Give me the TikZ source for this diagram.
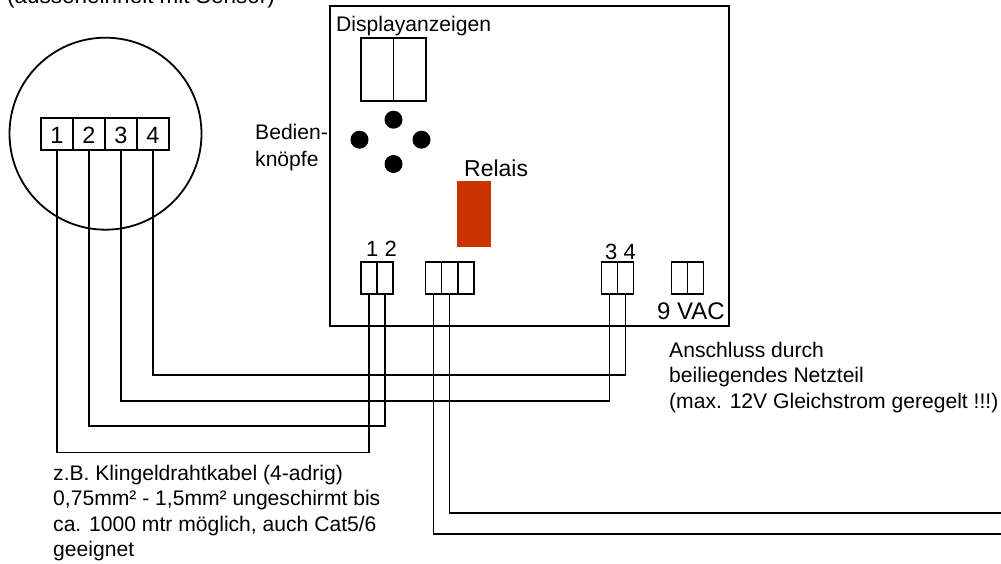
\documentclass[tikz,border=0pt]{standalone}
\usepackage{fontspec}
\setmainfont{Liberation Sans}
\definecolor{relaycol}{RGB}{204,51,0}
\tikzset{
 cell/.style={draw=black,line width=1.8pt,minimum width=#1,minimum height=32pt,inner sep=0pt,anchor=center},
 cell/.default=16pt,
 wire/.style={draw=black,line width=1.8pt,line join=miter},
 lab/.style={inner sep=0pt,font=\fontsize{21.1pt}{26pt}\selectfont,anchor=base west,align=left},
 labs/.style={inner sep=0pt,font=\fontsize{21.1pt}{25.6pt}\selectfont,anchor=north west,align=left},
 dot/.style={circle,fill=black,draw=none,minimum size=18pt,inner sep=0pt},
 disp/.style={draw=black,line width=1.8pt,minimum width=32.5pt,minimum height=63pt,inner sep=0pt},
}
\begin{document}
\begin{tikzpicture}[x=1pt,y=-1pt]
\useasboundingbox (0,0) rectangle (1001,564);
\node[draw=black,line width=1.8pt,circle,minimum size=192pt,inner sep=0pt] (outer) at (105.5,133.7) {};
\node[cell=32pt] (t1) at (57,134) {};
\node[cell=32pt] (t2) at (89,134) {};
\node[cell=32pt] (t3) at (121,134) {};
\node[cell=32pt] (t4) at (153,134) {};
\node[lab,anchor=base,font=\fontsize{23.5pt}{26pt}\selectfont] (n1) at (57,143.3) {1};
\node[lab,anchor=base,font=\fontsize{23.5pt}{26pt}\selectfont] (n2) at (89,143.3) {2};
\node[lab,anchor=base,font=\fontsize{23.5pt}{26pt}\selectfont] (n3) at (121,143.3) {3};
\node[lab,anchor=base,font=\fontsize{23.5pt}{26pt}\selectfont] (n4) at (153,143.3) {4};
\node[draw=black,line width=1.8pt,minimum width=399pt,minimum height=320pt,inner sep=0pt] (main) at (529.5,165.8) {};
\node[disp] (d1) at (377.3,69.5) {};
\node[disp] (d2) at (409.7,69.5) {};
\node[dot] (b1) at (393.5,119.7) {};
\node[dot] (b2) at (359.5,139.7) {};
\node[dot] (b3) at (421.5,139.7) {};
\node[dot] (b4) at (393.5,164) {};
\node[fill=relaycol,minimum width=34pt,minimum height=65.5pt,inner sep=0pt] (relay) at (473.5,213.8) {};
\node[cell] (a1) at (369.2,277.7) {};
\node[cell] (a2) at (385.3,277.7) {};
\node[cell] (r1) at (433.4,277.7) {};
\node[cell] (r2) at (449.5,277.7) {};
\node[cell] (r3) at (465.6,277.7) {};
\node[cell] (a3) at (609.4,277.7) {};
\node[cell] (a4) at (625.5,277.7) {};
\node[cell] (p1) at (679.4,277.7) {};
\node[cell] (p2) at (695.5,277.7) {};
\coordinate (e1) at (1001,513);
\coordinate (e2) at (1001,534);
\draw[wire] (t4.south) |- (375,375) -- (a4.south |- 0,375) -- (a4.south);
\draw[wire] (t3.south) |- (375,401) -- (a3.south |- 0,401) -- (a3.south);
\draw[wire] (t2.south) |- (375,426) -- (a2.south |- 0,426) -- (a2.south);
\draw[wire] (t1.south) |- (300,452.5) -- (a1.south |- 0,452.5) -- (a1.south);
\draw[wire] (r2.south) |- (e1);
\draw[wire] (r1.south) |- (e2);
\node[lab,font=\fontsize{22.5pt}{26pt}\selectfont] (top) at (7,4) {(ausseneinheit mit Sensor)};
\node[lab] (displabel) at (336,32) {Displayanzeigen};
\node[labs,font=\fontsize{21.1pt}{27pt}\selectfont] (bed) at (255,123.6) {Bedien-\\knöpfe};
\node[lab,font=\fontsize{23pt}{26pt}\selectfont] (rel) at (464,177) {Relais};
\node[lab,font=\fontsize{22pt}{26pt}\selectfont] (l12) at (366,256.7) {1 2};
\node[lab,font=\fontsize{22pt}{26pt}\selectfont] (l34) at (605,259) {3 4};
\node[lab,font=\fontsize{24pt}{26pt}\selectfont] (vac) at (657,319) {9 VAC};
\node[labs] (hint) at (669,341.8) {Anschluss durch\\beiliegendes Netzteil\\(max. 12V Gleichstrom geregelt !!!)};
\node[labs] (kab) at (53,464.6) {z.B. Klingeldrahtkabel (4-adrig)\\0,75mm² - 1,5mm² ungeschirmt bis\\ca. 1000 mtr möglich, auch Cat5/6\\geeignet};
\end{tikzpicture}
\end{document}
